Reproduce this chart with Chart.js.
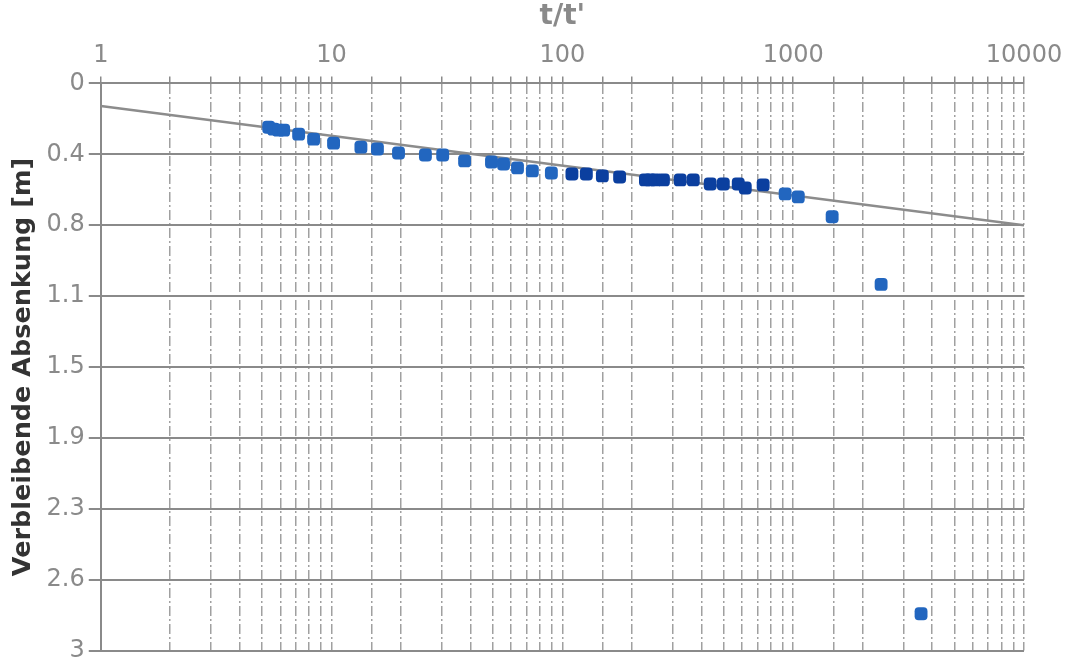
<!DOCTYPE html>
<html>
<head>
<meta charset="utf-8">
<script src="https://cdn.jsdelivr.net/npm/chart.js@4.4.1/dist/chart.umd.min.js"></script>
<style>
  html, body { margin: 0; padding: 0; background: #fff; }
  #wrap { width: 1069px; height: 663px; }
</style>
</head>
<body>
<div id="wrap"><canvas id="myChart"></canvas></div>
<script>
// t/t' Werte (x) und verbleibende Absenkung in m (y)
const tRatio = [5.34, 5.61, 5.9, 6.2, 7.2, 8.36, 10.2, 13.4, 15.8, 19.5, 25.5, 30.3, 37.7, 49.3, 55.6, 63.9, 74.1, 89.6,
  110, 127, 149, 177, 229, 240, 253, 274, 324, 369, 437, 498, 578, 620, 741, 923, 1052, 1475, 2404, 3581];
const absenkung = [0.232, 0.242, 0.247, 0.247, 0.268, 0.295, 0.316, 0.337, 0.347, 0.368, 0.379, 0.379, 0.41, 0.416, 0.426, 0.447, 0.463, 0.474,
  0.479, 0.479, 0.489, 0.495, 0.51, 0.51, 0.51, 0.51, 0.51, 0.51, 0.532, 0.532, 0.532, 0.553, 0.537, 0.584, 0.6, 0.705, 1.063, 2.805];

// Ausgleichsgerade
const fitX = [1, 10000];
const fitY = [0.12, 0.75];

// Achsen
const xTickLabels = [1, 10, 100, 1000, 10000];
const yTicks = [0, 0.375, 0.75, 1.125, 1.5, 1.875, 2.25, 2.625, 3];

const points = tRatio.map((t, i) => ({ x: t, y: absenkung[i] }));
const fitLine = fitX.map((t, i) => ({ x: t, y: fitY[i] }));

const grey = '#8a8a8a';

const canvas = document.getElementById('myChart');
const myChart = new Chart(canvas, {
  type: 'scatter',
  data: {
    datasets: [
      {
        type: 'line',
        label: 'Gerade',
        data: fitLine,
        borderColor: '#8c8c8c',
        borderWidth: 2.5,
        pointRadius: 0,
        order: 2
      },
      {
        label: 'Messwerte',
        data: points,
        pointStyle: 'rectRounded',
        pointRadius: 7.5,
        backgroundColor: (ctx) => {
          const v = ctx.raw ? ctx.raw.x : 0;
          return (v > 100 && v < 800) ? '#0b3f9f' : '#2266bf';
        },
        borderWidth: 0,
        order: 1
      }
    ]
  },
  options: {
    responsive: true,
    maintainAspectRatio: false,
    animation: false,
    layout: { padding: { top: 0, right: 45, bottom: 0, left: 8 } },
    plugins: { legend: { display: false }, tooltip: { enabled: false } },
    scales: {
      x: {
        type: 'logarithmic',
        position: 'top',
        min: 1,
        max: 10000,
        title: {
          display: true,
          text: "t/t'",
          color: grey,
          font: { family: 'DejaVu Sans', size: 28, weight: 'bold' },
          padding: { top: 0, bottom: 2 }
        },
        ticks: {
          autoSkip: false,
          maxRotation: 0,
          color: grey,
          padding: 6,
          font: { family: 'DejaVu Sans', size: 24 },
          callback: (v) => xTickLabels.includes(v) ? String(v) : ''
        },
        grid: {
          color: 'rgba(120,120,120,0.7)',
          lineWidth: 1.5,
          tickLength: 7,
          tickColor: grey,
          tickBorderDash: [10, 3, 2, 3]
        },
        border: { display: true, color: grey, width: 2, dash: [10, 3, 2, 3] }
      },
      y: {
        reverse: true,
        min: 0,
        max: 3,
        afterBuildTicks: (axis) => { axis.ticks = yTicks.map(v => ({ value: v })); },
        title: {
          display: true,
          text: 'Verbleibende Absenkung [m]',
          color: '#333',
          font: { family: 'DejaVu Sans', size: 25.5, weight: 'bold' },
          padding: { top: 0, bottom: 4 }
        },
        ticks: {
          color: grey,
          padding: 4,
          font: { family: 'DejaVu Sans', size: 24, lineHeight: 0.7 },
          callback: (v) => String(Math.round(v * 10) / 10)
        },
        grid: { color: grey, lineWidth: 2, tickLength: 12 },
        border: { display: true, color: grey, width: 2 }
      }
    }
  }
});
</script>
</body>
</html>
